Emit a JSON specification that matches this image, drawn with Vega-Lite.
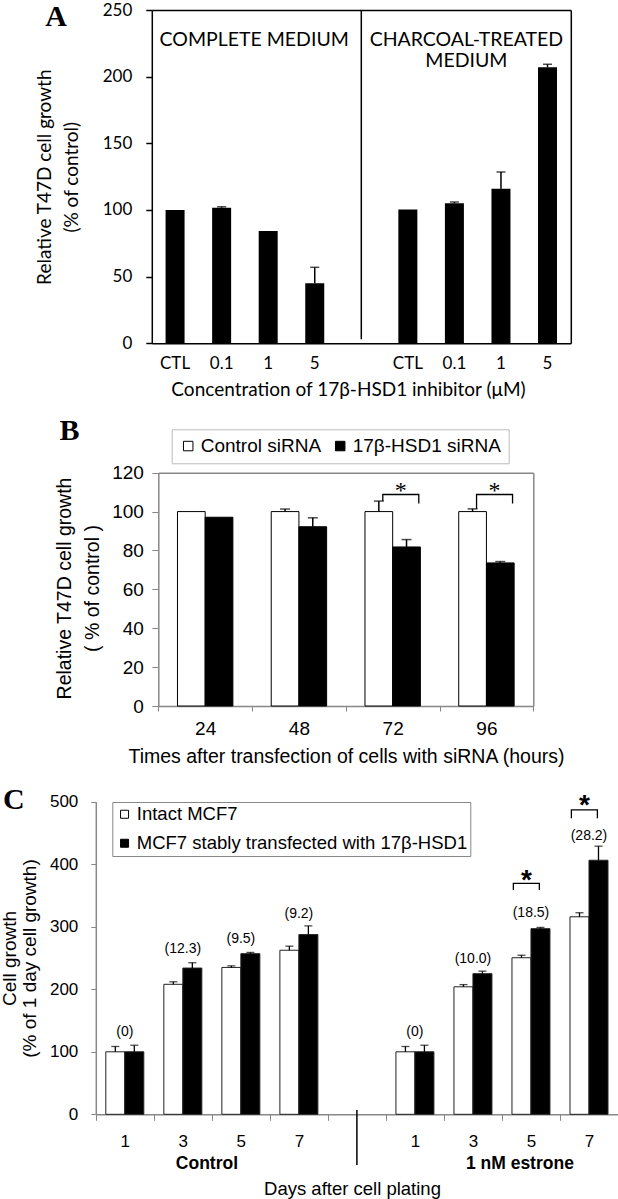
{
  "$schema": "https://vega.github.io/schema/vega-lite/v6.json",
  "width": 618,
  "height": 1199,
  "autosize": {"type": "none"},
  "padding": 0,
  "config": {"view": {"stroke": null}, "axis": {"grid": false}, "font": "Liberation Sans"},
  "datasets": {
    "a": [
      {"cat": "c:CTL", "v": 100, "e": null},
      {"cat": "c:0.1", "v": 101.7, "e": 102.4},
      {"cat": "c:1", "v": 84.2, "e": null},
      {"cat": "c:5", "v": 45, "e": 57},
      {"cat": "t:CTL", "v": 100.3, "e": null},
      {"cat": "t:0.1", "v": 105, "e": 106},
      {"cat": "t:1", "v": 116, "e": 128.5},
      {"cat": "t:5", "v": 207, "e": 209.3}
    ],
    "b": [
      {"h": "24", "s": "Control siRNA", "v": 100, "e": null},
      {"h": "24", "s": "17β-HSD1 siRNA", "v": 97.1, "e": null},
      {"h": "48", "s": "Control siRNA", "v": 100, "e": 101.3},
      {"h": "48", "s": "17β-HSD1 siRNA", "v": 92.2, "e": 96.8},
      {"h": "72", "s": "Control siRNA", "v": 100, "e": 105.4},
      {"h": "72", "s": "17β-HSD1 siRNA", "v": 81.8, "e": 85.6},
      {"h": "96", "s": "Control siRNA", "v": 100, "e": 101.4},
      {"h": "96", "s": "17β-HSD1 siRNA", "v": 73.6, "e": 74.3}
    ],
    "bbr": [
      {"h": "72", "p": "L", "y": 105.4, "o": 1},
      {"h": "72", "p": "L", "y": 108.8, "o": 2},
      {"h": "72", "p": "R", "y": 108.8, "o": 3},
      {"h": "72", "p": "R", "y": 104.2, "o": 4},
      {"h": "96", "p": "L", "y": 101.4, "o": 1},
      {"h": "96", "p": "L", "y": 108.8, "o": 2},
      {"h": "96", "p": "R", "y": 108.8, "o": 3},
      {"h": "96", "p": "R", "y": 104.2, "o": 4}
    ],
    "bst": [
      {"h": "72", "p": "M", "y": 113, "t": "*"},
      {"h": "96", "p": "M", "y": 113, "t": "*"}
    ],
    "c": [
      {"g": "c1", "s": "Intact MCF7", "v": 100, "e": 108.5},
      {"g": "c1", "s": "MCF7 stably transfected with 17β-HSD1", "v": 100, "e": 110.5},
      {"g": "c3", "s": "Intact MCF7", "v": 208, "e": 212},
      {"g": "c3", "s": "MCF7 stably transfected with 17β-HSD1", "v": 234, "e": 242.5},
      {"g": "c5", "s": "Intact MCF7", "v": 235, "e": 237.5},
      {"g": "c5", "s": "MCF7 stably transfected with 17β-HSD1", "v": 257, "e": 259},
      {"g": "c7", "s": "Intact MCF7", "v": 262.5, "e": 269},
      {"g": "c7", "s": "MCF7 stably transfected with 17β-HSD1", "v": 287.5, "e": 301.5},
      {"g": "e1", "s": "Intact MCF7", "v": 100, "e": 108.5},
      {"g": "e1", "s": "MCF7 stably transfected with 17β-HSD1", "v": 100, "e": 110.5},
      {"g": "e3", "s": "Intact MCF7", "v": 204, "e": 207.5},
      {"g": "e3", "s": "MCF7 stably transfected with 17β-HSD1", "v": 225, "e": 229},
      {"g": "e5", "s": "Intact MCF7", "v": 250.5, "e": 254.5},
      {"g": "e5", "s": "MCF7 stably transfected with 17β-HSD1", "v": 297, "e": 299},
      {"g": "e7", "s": "Intact MCF7", "v": 316, "e": 322.5},
      {"g": "e7", "s": "MCF7 stably transfected with 17β-HSD1", "v": 406.5, "e": 429}
    ],
    "cann": [
      {"g": "c1", "t": "(0)", "y": 132},
      {"g": "c3", "t": "(12.3)", "y": 265},
      {"g": "c5", "t": "(9.5)", "y": 280},
      {"g": "c7", "t": "(9.2)", "y": 321},
      {"g": "e1", "t": "(0)", "y": 132},
      {"g": "e3", "t": "(10.0)", "y": 248.5},
      {"g": "e5", "t": "(18.5)", "y": 321.5},
      {"g": "e7", "t": "(28.2)", "y": 445}
    ],
    "cbr": [
      {"g": "e5", "p": "L", "y": 358.9, "o": 1},
      {"g": "e5", "p": "L", "y": 369.6, "o": 2},
      {"g": "e5", "p": "R", "y": 369.6, "o": 3},
      {"g": "e5", "p": "R", "y": 358.9, "o": 4},
      {"g": "e7", "p": "L", "y": 473.6, "o": 1},
      {"g": "e7", "p": "L", "y": 487, "o": 2},
      {"g": "e7", "p": "R", "y": 487, "o": 3},
      {"g": "e7", "p": "R", "y": 473.6, "o": 4}
    ],
    "cst": [
      {"g": "e5", "p": "M", "y": 385.6, "t": "*"},
      {"g": "e7", "p": "M", "y": 505.6, "t": "*"}
    ]
  },
  "resolve": {
    "scale": {"x": "independent", "y": "independent", "xOffset": "independent", "color": "independent"},
    "axis": {"x": "independent", "y": "independent"},
    "legend": {"color": "independent"}
  },
  "layer": [
    {
      "resolve": {"axis": {"x": "independent", "y": "independent"}},
      "layer": [
        {
          "data": {"name": "a"},
          "mark": {"type": "bar", "color": "black"},
          "encoding": {
            "x": {"field": "cat", "type": "nominal", "sort": null,
              "scale": {"domain": ["c:CTL", "c:0.1", "c:1", "c:5", "gap", "t:CTL", "t:0.1", "t:1", "t:5"], "range": [151.8, 570.8], "paddingInner": 0.592, "paddingOuter": 0.296},
              "axis": {"orient": "bottom", "offset": -855.7, "labelExpr": "isString(datum.value) && datum.value != 'gap' ? substring(datum.value, 2) : ''", "labelAngle": 0, "ticks": false, "tickSize": 0, "labelPadding": 12, "labelFont": "Lato", "labelFontSize": 17, "labelColor": "black", "domainColor": "black", "domainWidth": 1.5,
                "title": "Concentration of 17β-HSD1 inhibitor (μM)", "titleFont": "Lato", "titleFontSize": 19, "titleFontWeight": "normal", "titleColor": "black", "titleX": 348, "titleY": 46, "titleBaseline": "middle", "titleAlign": "center"}},
            "y": {"field": "v", "type": "quantitative",
              "scale": {"domain": [0, 250], "range": [343.3, 10], "nice": false},
              "axis": {"orient": "left", "offset": -151.8, "values": [0, 50, 100, 150, 200, 250], "tickSize": 6, "tickColor": "black", "tickWidth": 1.5, "domainColor": "black", "domainWidth": 1.5, "labelFont": "Lato", "labelFontSize": 17, "labelColor": "black", "labelPadding": 14,
                "title": ["Relative T47D cell growth", "(% of control)"], "titleFont": "Lato", "titleFontSize": 19, "titleFontWeight": "normal", "titleColor": "black", "titleX": -107.5, "titleY": 176.7, "titleBaseline": "middle", "titleAlign": "center", "titleAngle": -90, "titleLineHeight": 27}}
          }
        },
        {
          "data": {"name": "a"},
          "transform": [{"filter": "datum.e != null"}],
          "mark": {"type": "rule", "color": "black", "strokeWidth": 1.5},
          "encoding": {
            "x": {"field": "cat", "type": "nominal", "axis": null},
            "y": {"field": "v", "type": "quantitative", "axis": null},
            "y2": {"field": "e"}
          }
        },
        {
          "data": {"name": "a"},
          "transform": [{"filter": "datum.e != null"}],
          "mark": {"type": "tick", "color": "black", "size": 9, "thickness": 1.5},
          "encoding": {
            "x": {"field": "cat", "type": "nominal", "axis": {"orient": "top", "offset": -10, "labels": false, "ticks": false, "domainColor": "black", "domainWidth": 1.5,
              "title": "A", "titleFont": "Liberation Serif", "titleFontSize": 30, "titleFontWeight": "bold", "titleColor": "black", "titleAngle": 0, "titleX": 55.5, "titleY": 6, "titleBaseline": "middle", "titleAlign": "center"}},
            "y": {"field": "e", "type": "quantitative", "axis": {"orient": "right", "offset": -47.2, "labels": false, "ticks": false, "title": null, "domainColor": "black", "domainWidth": 1.5}}
          }
        },
        {
          "data": {"values": [{"cat": "gap", "y1": 3, "y2": 250}]},
          "mark": {"type": "rule", "color": "black", "strokeWidth": 1.5},
          "encoding": {
            "x": {"field": "cat", "type": "nominal", "axis": null},
            "y": {"field": "y1", "type": "quantitative", "axis": null},
            "y2": {"field": "y2"}
          }
        },
        {
          "data": {"values": [{"cat": "c:1", "y": 227.5, "t": "COMPLETE MEDIUM"}]},
          "mark": {"type": "text", "font": "Lato", "fontSize": 19.5, "color": "black", "baseline": "middle", "dx": -14},
          "encoding": {
            "x": {"field": "cat", "type": "nominal", "axis": null},
            "y": {"field": "y", "type": "quantitative", "axis": null},
            "text": {"field": "t"}
          }
        },
        {
          "data": {"values": [{"cat": "t:0.1", "y": 227.5, "t": "CHARCOAL-TREATED"}, {"cat": "t:0.1", "y": 211.7, "t": "MEDIUM"}]},
          "mark": {"type": "text", "font": "Lato", "fontSize": 19.5, "color": "black", "baseline": "middle", "dx": 12},
          "encoding": {
            "x": {"field": "cat", "type": "nominal", "axis": null},
            "y": {"field": "y", "type": "quantitative", "axis": null},
            "text": {"field": "t"}
          }
        }
      ]
    },
    {
      "resolve": {"scale": {"xOffset": "independent"}, "axis": {"x": "independent", "y": "independent"}},
      "layer": [
        {
          "data": {"name": "b"},
          "mark": {"type": "bar", "stroke": "black", "strokeWidth": 1},
          "encoding": {
            "x": {"field": "h", "type": "nominal", "sort": null,
              "scale": {"domain": ["24", "48", "72", "96"], "range": [158.3, 533.3], "paddingInner": 0, "paddingOuter": 0},
              "axis": {"orient": "bottom", "offset": -493, "tickBand": "extent", "tickSize": 5, "tickColor": "#888", "domainColor": "#888", "domainWidth": 1.5, "labelAngle": 0, "labelFont": "Liberation Sans", "labelFontSize": 19, "labelColor": "black", "labelPadding": 8.8,
                "title": "Times after transfection of cells with siRNA (hours)", "titleFont": "Liberation Sans", "titleFontSize": 19.5, "titleFontWeight": "normal", "titleColor": "black", "titleX": 346, "titleY": 50.7, "titleBaseline": "middle", "titleAlign": "center"}},
            "xOffset": {"field": "s", "type": "nominal", "sort": null, "scale": {"domain": ["Control siRNA", "17β-HSD1 siRNA"], "paddingInner": 0, "paddingOuter": 0.692}},
            "y": {"field": "v", "type": "quantitative",
              "scale": {"domain": [0, 120], "range": [706, 472.7], "nice": false},
              "axis": {"orient": "left", "offset": -158.3, "values": [0, 20, 40, 60, 80, 100, 120], "tickSize": 6.5, "tickColor": "#888", "domainColor": "#888", "domainWidth": 1.5, "labelFont": "Liberation Sans", "labelFontSize": 19, "labelColor": "black", "labelPadding": 8.4,
                "title": ["Relative T47D cell growth", "( % of control )"], "titleFont": "Liberation Sans", "titleFontSize": 19.5, "titleFontWeight": "normal", "titleColor": "black", "titleX": -94.3, "titleY": 588, "titleBaseline": "middle", "titleAlign": "center", "titleAngle": -90, "titleLineHeight": 28}},
            "color": {"field": "s", "type": "nominal", "sort": null,
              "scale": {"domain": ["Control siRNA", "17β-HSD1 siRNA"], "range": ["white", "black"]},
              "legend": {"orient": "none", "legendX": 171.7, "legendY": 429.3, "direction": "horizontal", "title": null, "padding": 7, "strokeColor": "#bbb", "fillColor": "white", "symbolType": "square", "symbolSize": 90, "symbolStrokeColor": "black", "symbolStrokeWidth": 1, "labelFont": "Liberation Sans", "labelFontSize": 19, "labelColor": "black", "labelOffset": 3, "columnPadding": 9, "labelLimit": 0}}
          }
        },
        {
          "data": {"name": "b"},
          "transform": [{"filter": "datum.e != null"}],
          "mark": {"type": "rule", "color": "black", "strokeWidth": 1.5},
          "encoding": {
            "x": {"field": "h", "type": "nominal", "axis": null},
            "xOffset": {"field": "s", "type": "nominal", "sort": null, "scale": {"domain": ["Control siRNA", "17β-HSD1 siRNA"], "paddingInner": 0, "paddingOuter": 0.692}},
            "y": {"field": "v", "type": "quantitative", "axis": null},
            "y2": {"field": "e"}
          }
        },
        {
          "data": {"name": "b"},
          "transform": [{"filter": "datum.e != null"}],
          "mark": {"type": "tick", "color": "black", "size": 10, "thickness": 1.5},
          "encoding": {
            "x": {"field": "h", "type": "nominal", "axis": {"orient": "top", "offset": -472.7, "labels": false, "ticks": false, "domainColor": "#888", "domainWidth": 1.5,
              "title": "B", "titleFont": "Liberation Serif", "titleFontSize": 30, "titleFontWeight": "bold", "titleColor": "black", "titleAngle": 0, "titleX": 69, "titleY": -42.7, "titleBaseline": "middle", "titleAlign": "center"}},
            "xOffset": {"field": "s", "type": "nominal", "sort": null, "scale": {"domain": ["Control siRNA", "17β-HSD1 siRNA"], "paddingInner": 0, "paddingOuter": 0.692}},
            "y": {"field": "e", "type": "quantitative", "axis": {"orient": "right", "offset": -84.7, "labels": false, "ticks": false, "title": null, "domainColor": "#888", "domainWidth": 1.5}}
          }
        },
        {
          "data": {"name": "bbr"},
          "mark": {"type": "line", "color": "black", "strokeWidth": 1.3},
          "encoding": {
            "x": {"field": "h", "type": "nominal", "axis": null},
            "xOffset": {"field": "p", "type": "nominal", "scale": {"type": "point", "domain": ["L", "M", "R"], "range": [37, 73], "padding": 0}},
            "y": {"field": "y", "type": "quantitative", "axis": null},
            "detail": {"field": "h"},
            "order": {"field": "o"}
          }
        },
        {
          "data": {"name": "bst"},
          "mark": {"type": "text", "font": "Liberation Serif", "fontSize": 24, "color": "black", "baseline": "middle", "dy": 5},
          "encoding": {
            "x": {"field": "h", "type": "nominal", "axis": null},
            "xOffset": {"field": "p", "type": "nominal", "scale": {"type": "point", "domain": ["L", "M", "R"], "range": [37, 73], "padding": 0}},
            "y": {"field": "y", "type": "quantitative", "axis": null},
            "text": {"field": "t"}
          }
        }
      ]
    },
    {
      "resolve": {"scale": {"xOffset": "independent"}, "axis": {"x": "independent", "y": "independent"}},
      "layer": [
        {
          "data": {"name": "c"},
          "mark": {"type": "bar", "stroke": "#222", "strokeWidth": 1},
          "encoding": {
            "x": {"field": "g", "type": "nominal", "sort": null,
              "scale": {"domain": ["c1", "c3", "c5", "c7", "gap", "e1", "e3", "e5", "e7"], "range": [95.8, 618], "paddingInner": 0, "paddingOuter": 0},
              "axis": {"orient": "bottom", "offset": -84.7, "tickBand": "extent", "tickSize": 6, "tickColor": "#888", "domainColor": "#888", "domainWidth": 1.5, "labelAngle": 0, "labelExpr": "isString(datum.value) && datum.value != 'gap' ? substring(datum.value, 1) : ''", "labelFont": "Liberation Sans", "labelFontSize": 17, "labelColor": "black", "labelPadding": 12.8,
                "title": "Days after cell plating", "titleFont": "Liberation Sans", "titleFontSize": 18.5, "titleFontWeight": "normal", "titleColor": "black", "titleX": 352, "titleY": 74, "titleBaseline": "middle", "titleAlign": "center"}},
            "xOffset": {"field": "s", "type": "nominal", "sort": null, "scale": {"domain": ["Intact MCF7", "MCF7 stably transfected with 17β-HSD1"], "paddingInner": 0, "paddingOuter": 0.527}},
            "y": {"field": "v", "type": "quantitative",
              "scale": {"domain": [0, 500], "range": [1114.3, 801.8], "nice": false},
              "axis": {"orient": "left", "offset": -95.8, "values": [0, 100, 200, 300, 400, 500], "tickSize": 5, "tickColor": "#888", "domainColor": "#888", "domainWidth": 1.5, "labelFont": "Liberation Sans", "labelFontSize": 17, "labelColor": "black", "labelPadding": 13,
                "title": ["Cell growth", "(% of 1 day cell growth)"], "titleFont": "Liberation Sans", "titleFontSize": 19, "titleFontWeight": "normal", "titleColor": "black", "titleX": -86.3, "titleY": 958, "titleBaseline": "middle", "titleAlign": "center", "titleAngle": -90, "titleLineHeight": 20}},
            "color": {"field": "s", "type": "nominal", "sort": null,
              "scale": {"domain": ["Intact MCF7", "MCF7 stably transfected with 17β-HSD1"], "range": ["white", "black"]},
              "legend": {"orient": "none", "legendX": 112.3, "legendY": 802, "direction": "vertical", "title": null, "padding": 3, "strokeColor": "#888", "fillColor": "white", "symbolType": "square", "symbolSize": 64, "symbolStrokeColor": "black", "symbolStrokeWidth": 1, "labelFont": "Liberation Sans", "labelFontSize": 18.5, "labelColor": "black", "labelOffset": 3, "rowPadding": 10, "labelLimit": 0}}
          }
        },
        {
          "data": {"name": "c"},
          "mark": {"type": "rule", "color": "black", "strokeWidth": 1.3},
          "encoding": {
            "x": {"field": "g", "type": "nominal", "axis": null},
            "xOffset": {"field": "s", "type": "nominal", "sort": null, "scale": {"domain": ["Intact MCF7", "MCF7 stably transfected with 17β-HSD1"], "paddingInner": 0, "paddingOuter": 0.527}},
            "y": {"field": "v", "type": "quantitative", "axis": null},
            "y2": {"field": "e"}
          }
        },
        {
          "data": {"name": "c"},
          "mark": {"type": "tick", "color": "black", "size": 8, "thickness": 1.3},
          "encoding": {
            "x": {"field": "g", "type": "nominal", "axis": {"orient": "top", "offset": -801.8, "labels": false, "ticks": false, "domain": false,
              "title": "C", "titleFont": "Liberation Serif", "titleFontSize": 30, "titleFontWeight": "bold", "titleColor": "black", "titleAngle": 0, "titleX": 13.4, "titleY": -2.8, "titleBaseline": "middle", "titleAlign": "center"}},
            "xOffset": {"field": "s", "type": "nominal", "sort": null, "scale": {"domain": ["Intact MCF7", "MCF7 stably transfected with 17β-HSD1"], "paddingInner": 0, "paddingOuter": 0.527}},
            "y": {"field": "e", "type": "quantitative", "axis": null}
          }
        },
        {
          "data": {"name": "cann"},
          "mark": {"type": "text", "font": "Liberation Sans", "fontSize": 14, "color": "black", "baseline": "middle"},
          "encoding": {
            "x": {"field": "g", "type": "nominal", "axis": null},
            "y": {"field": "y", "type": "quantitative", "axis": null},
            "text": {"field": "t"}
          }
        },
        {
          "data": {"name": "cbr"},
          "mark": {"type": "line", "color": "black", "strokeWidth": 1.3},
          "encoding": {
            "x": {"field": "g", "type": "nominal", "axis": null},
            "xOffset": {"field": "p", "type": "nominal", "scale": {"type": "point", "domain": ["L", "M", "R"], "range": [11.4, 37.4], "padding": 0}},
            "y": {"field": "y", "type": "quantitative", "axis": null},
            "detail": {"field": "g"},
            "order": {"field": "o"}
          }
        },
        {
          "data": {"name": "cst"},
          "mark": {"type": "text", "font": "Liberation Sans", "fontSize": 28, "fontWeight": "bold", "color": "black", "baseline": "middle", "dy": 7.5},
          "encoding": {
            "x": {"field": "g", "type": "nominal", "axis": null},
            "xOffset": {"field": "p", "type": "nominal", "scale": {"type": "point", "domain": ["L", "M", "R"], "range": [11.4, 37.4], "padding": 0}},
            "y": {"field": "y", "type": "quantitative", "axis": null},
            "text": {"field": "t"}
          }
        },
        {
          "data": {"values": [{"g": "gap", "y1": 7, "y2": -81}]},
          "mark": {"type": "rule", "color": "black", "strokeWidth": 1.5},
          "encoding": {
            "x": {"field": "g", "type": "nominal", "axis": null},
            "y": {"field": "y1", "type": "quantitative", "axis": null},
            "y2": {"field": "y2"}
          }
        },
        {
          "data": {"values": [{"g": "c3", "y": -79.5, "t": "Control"}, {"g": "e3", "y": -79.5, "t": "1 nM estrone"}]},
          "mark": {"type": "text", "font": "Liberation Sans", "fontSize": 17.5, "fontWeight": "bold", "color": "black", "baseline": "middle", "align": "left", "dx": 22},
          "encoding": {
            "x": {"field": "g", "type": "nominal", "axis": null, "bandPosition": 0},
            "y": {"field": "y", "type": "quantitative", "axis": null},
            "text": {"field": "t"}
          }
        }
      ]
    }
  ]
}
